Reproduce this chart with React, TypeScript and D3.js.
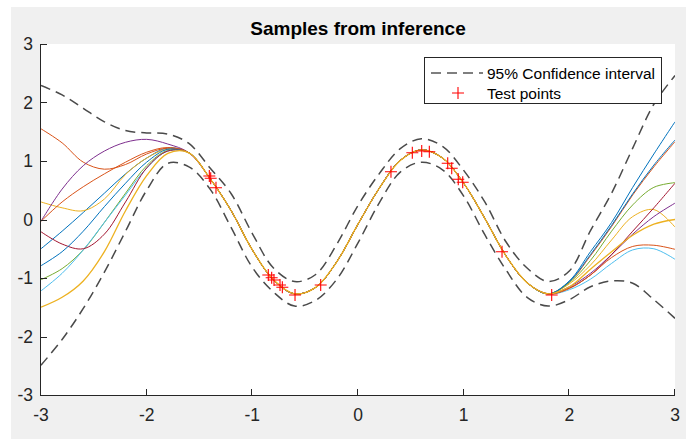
import React, { useEffect, useRef } from 'react';
import * as d3 from 'd3';

const xGrid = [-3, -2.8, -2.6, -2.4, -2.2, -2, -1.8, -1.6, -1.4, -1.2, -1, -0.8, -0.6, -0.4, -0.2, 0,
  0.2, 0.4, 0.6, 0.8, 1, 1.2, 1.4, 1.6, 1.8, 2, 2.2, 2.4, 2.6, 2.8, 3];

const upperCI = [2.29, 2.13, 1.9, 1.67, 1.52, 1.48, 1.46, 1.3, 0.88, 0.44, -0.24, -0.83, -1.06, -0.94, -0.42, 0.24,
  0.78, 1.21, 1.38, 1.25, 0.84, 0.3, -0.38, -0.83, -1.06, -0.88, -0.19, 0.45, 1.22, 1.97, 2.46];

const lowerCI = [-2.49, -2.05, -1.52, -0.9, -0.2, 0.5, 0.96, 0.9, 0.52, -0.14, -0.82, -1.24, -1.48, -1.38, -1.02, -0.4,
  0.28, 0.81, 0.98, 0.85, 0.4, -0.26, -0.86, -1.33, -1.48, -1.37, -1.15, -1.05, -1.09, -1.37, -1.69];

// where all samples overlap (x = -1.6 .. 1.8)
const coreMean = [1.14, 0.7, 0.15, -0.52, -1.03, -1.27, -1.16, -0.72, -0.08, 0.53, 1.01, 1.19, 1.05, 0.62, 0.02,
  -0.62, -1.08, -1.27];

// x = -3 .. -1.8
const leftTails = [
  [-0.5, -0.2, 0.12, 0.45, 0.78, 1.05, 1.22],
  [1.55, 1.31, 0.98, 0.86, 0.94, 1.12, 1.22],
  [0.3, 0.2, 0.15, 0.35, 0.77, 1.05, 1.2],
  [-0.03, 0.52, 0.92, 1.17, 1.32, 1.37, 1.29],
  [-1.03, -0.84, -0.52, -0.05, 0.45, 0.92, 1.18],
  [-1.22, -0.92, -0.52, -0.05, 0.42, 0.88, 1.17],
  [-0.21, -0.42, -0.5, -0.25, 0.3, 0.88, 1.17],
  [-0.79, -0.55, -0.2, 0.22, 0.62, 0.98, 1.2],
  [-0.03, 0.3, 0.56, 0.78, 0.98, 1.15, 1.23],
  [-1.5, -1.33, -1.05, -0.55, 0.15, 0.75, 1.13],
];

// x = 2 .. 3
const rightTails = [
  [-1.05, -0.55, -0.05, 0.55, 1.12, 1.67],
  [-1.07, -0.62, -0.12, 0.42, 0.9, 1.33],
  [-1.1, -0.78, -0.35, 0.05, 0.17, -0.13],
  [-1.15, -0.92, -0.6, -0.25, 0.05, 0.28],
  [-1.08, -0.7, -0.2, 0.25, 0.55, 0.63],
  [-1.2, -1.02, -0.75, -0.52, -0.5, -0.68],
  [-1.17, -0.95, -0.6, -0.2, 0.2, 0.62],
  [-1.06, -0.6, -0.1, 0.44, 0.93, 1.36],
  [-1.18, -0.95, -0.65, -0.46, -0.44, -0.51],
  [-1.15, -0.85, -0.55, -0.27, -0.08, 0],
];

const sampleColors = ['#0072BD', '#D95319', '#EDB120', '#7E2F8E', '#77AC30', '#4DBEEE', '#A2142F',
  '#0072BD', '#D95319', '#EDB120'];

const testX = [-1.407, -1.394, -1.344, -0.849, -0.817, -0.795, -0.738, -0.716, -0.596, -0.353,
  0.312, 0.514, 0.603, 0.675, 0.849, 0.887, 0.949, 0.991, 1.363, 1.833];
const testY = [0.744, 0.704, 0.544, -0.949, -0.995, -1.034, -1.12, -1.159, -1.291, -1.12,
  0.817, 1.142, 1.171, 1.159, 0.961, 0.875, 0.687, 0.636, -0.551, -1.291];

const xTicks = [-3, -2, -1, 0, 1, 2, 3];
const yTicks = [-3, -2, -1, 0, 1, 2, 3];

const font = '"Liberation Sans", Arial, sans-serif';

const App = () => {
  const ref = useRef<SVGSVGElement>(null);

  useEffect(() => {
    const svg = d3.select(ref.current);
    svg.selectAll('*').remove();

    const W = 686, H = 439;
    const left = 41, right = 675, top = 44, bottom = 395;

    svg.append('rect').attr('width', W).attr('height', H).attr('fill', '#fff');
    svg.append('rect').attr('x', 11).attr('y', 7).attr('width', W - 11).attr('height', H - 7).attr('fill', '#f0f0f0');
    svg.append('rect').attr('x', left).attr('y', top).attr('width', right - left).attr('height', bottom - top).attr('fill', '#fff');

    const x = d3.scaleLinear().domain([-3, 3]).range([left, right]);
    const y = d3.scaleLinear().domain([-3, 3]).range([bottom, top]);

    svg.append('defs').append('clipPath').attr('id', 'plotclip')
      .append('rect').attr('x', left).attr('y', top).attr('width', right - left).attr('height', bottom - top);

    const plot = svg.append('g').attr('clip-path', 'url(#plotclip)');

    const line = d3.line<number>()
      .x((d, i) => x(xGrid[i]))
      .y(d => y(d))
      .curve(d3.curveCatmullRom.alpha(0.5));

    // samples
    leftTails.forEach((lt, i) => {
      const vals = [...lt, ...coreMean, ...rightTails[i]];
      plot.append('path')
        .attr('d', line(vals))
        .attr('fill', 'none')
        .attr('stroke', sampleColors[i])
        .attr('stroke-width', i === leftTails.length - 1 ? 1.3 : 1);
    });

    // confidence interval
    [upperCI, lowerCI].forEach(vals => {
      plot.append('path')
        .attr('d', line(vals))
        .attr('fill', 'none')
        .attr('stroke', '#4a4a4a')
        .attr('stroke-width', 1.5)
        .attr('stroke-dasharray', '10,6');
    });

    // test points
    const cross = (g: any, cx: number, cy: number, r: number) => {
      g.append('path')
        .attr('d', `M${cx - r},${cy}H${cx + r}M${cx},${cy - r}V${cy + r}`)
        .attr('stroke', '#ff0000')
        .attr('stroke-width', 1.1)
        .attr('fill', 'none');
    };
    testX.forEach((tx, i) => cross(plot, x(tx), y(testY[i]), 6));

    // axes
    const axisColor = '#262626';
    svg.append('line').attr('x1', left).attr('x2', right).attr('y1', bottom + 0.5).attr('y2', bottom + 0.5)
      .attr('stroke', axisColor).attr('stroke-width', 1);
    svg.append('line').attr('x1', left - 0.5).attr('x2', left - 0.5).attr('y1', top).attr('y2', bottom + 1)
      .attr('stroke', axisColor).attr('stroke-width', 1);

    xTicks.forEach(t => {
      const px = Math.round(x(t)) - 0.5;
      svg.append('line').attr('x1', px).attr('x2', px).attr('y1', bottom).attr('y2', bottom - 6)
        .attr('stroke', axisColor);
      svg.append('text').attr('x', x(t)).attr('y', 421).attr('text-anchor', 'middle')
        .attr('font-family', font).attr('font-size', 17.5).attr('fill', axisColor)
        .text(t);
    });
    yTicks.forEach(t => {
      const py = Math.round(y(t)) + 0.5;
      svg.append('line').attr('x1', left).attr('x2', left + 6).attr('y1', py).attr('y2', py)
        .attr('stroke', axisColor);
      svg.append('text').attr('x', 33).attr('y', y(t)).attr('dy', '0.36em').attr('text-anchor', 'end')
        .attr('font-family', font).attr('font-size', 17.5).attr('fill', axisColor)
        .text(t);
    });

    // title
    svg.append('text').attr('x', (left + right) / 2).attr('y', 35).attr('text-anchor', 'middle')
      .attr('font-family', font).attr('font-size', 19).attr('font-weight', 'bold').attr('fill', '#000')
      .text('Samples from inference');

    // legend
    const lg = svg.append('g');
    lg.append('rect').attr('x', 424.5).attr('y', 57.5).attr('width', 237).attr('height', 46)
      .attr('fill', '#fff').attr('stroke', '#262626').attr('stroke-width', 1);
    lg.append('line').attr('x1', 431).attr('x2', 483).attr('y1', 73).attr('y2', 73)
      .attr('stroke', '#000').attr('stroke-width', 1.2).attr('stroke-dasharray', '10,6');
    lg.append('text').attr('x', 487).attr('y', 78.5).attr('font-family', font).attr('font-size', 15.5)
      .attr('fill', '#000').text('95% Confidence interval');
    cross(lg, 458, 93, 6);
    lg.append('text').attr('x', 487).attr('y', 98.5).attr('font-family', font).attr('font-size', 15.5)
      .attr('fill', '#000').text('Test points');
  }, []);

  return (
    <svg ref={ref} width={686} height={439} style={{ position: 'absolute', left: 0, top: 0 }} />
  );
};

export default App;
